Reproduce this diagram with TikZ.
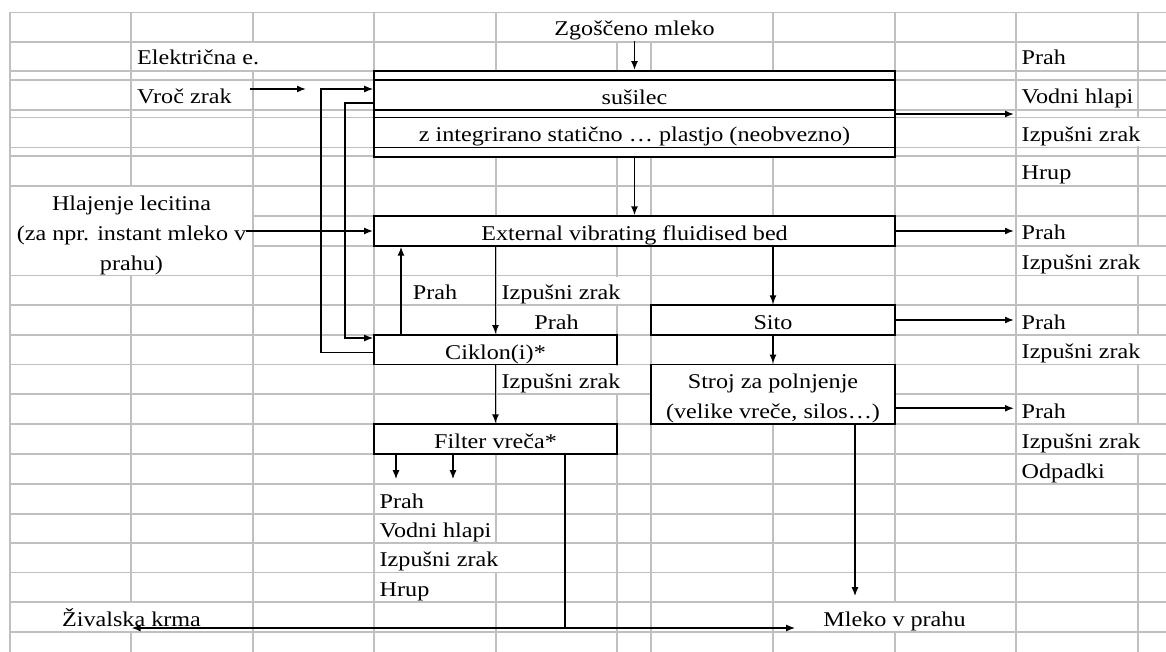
\documentclass[tikz,border=0pt]{standalone}
\usepackage{fontspec}
\setmainfont[FakeStretch=1.15]{Liberation Serif}
\usetikzlibrary{arrows.meta}
\definecolor{sheetgray}{RGB}{192,192,192}
\tikzset{>={Latex[length=9pt,width=7pt]}, % filled arrow tips
  box/.style={draw, line width=1.8pt, fill=white, inner sep=0pt,
    minimum height=29.5pt, text height=19pt, text depth=0pt},
  flow/.style={line width=1.6pt},
  recycle/.style={line width=1.1pt},
  sheetline/.style={line width=1.2pt, draw=sheetgray},
  cell/.style={anchor=base west, inner sep=0pt},
  ccell/.style={anchor=base, inner sep=0pt},
  flow chart/.style={
    x=1pt,
    y=-1pt,
    font={\fontsize{21}{30}\selectfont},
  },
}
\newcommand{\hidegrid}[4]{\fill[white] (#1,#2) rectangle (#3,#4);}

\begin{document}
\begin{tikzpicture}[flow chart]
    \useasboundingbox (0,0) rectangle (1166,652);
    \foreach \y in {12.5,42,71,80,110,117.5,147.5,156,186,216,246,275.5,305,335,364.5,394,424,454,484,514,543,572.5,602,632}
      \draw [sheetline] (10,\y) -- (1166,\y);
    \foreach \x in {10,131,253,374,496,617,651,773,895,1016,1138}
      \draw [sheetline] (\x,12.5) -- (\x,652);
    \hidegrid{605}{13.5}{665}{41}
    \hidegrid{245}{43}{262}{70}
    \hidegrid{11}{187}{252}{274.5}
    \hidegrid{1130}{118.5}{1146}{146.5}
    \hidegrid{1130}{247}{1146}{274.5}
    \hidegrid{1130}{336}{1146}{363.5}
    \hidegrid{1130}{425}{1146}{453}
    \hidegrid{610}{276.5}{625}{304}
    \hidegrid{610}{365.5}{625}{393}
    \hidegrid{490}{544}{503}{571.5}
    \hidegrid{120}{603}{142}{631}
    \hidegrid{885}{603}{905}{631}

    \node [box, minimum width=521pt, minimum height=86pt] (dryer) at (634.5,114) {};
    \node [box, minimum width=521pt, minimum height=30pt] (dryrow) at (634.5,95) {sušilec};
    \node [box, minimum width=521pt, minimum height=30pt] (plate) at (634.5,132.5) {z integrirano statično … plastjo (neobvezno)};
    \node [box, minimum width=521pt] (bed) at (634.5,231) {External vibrating fluidised bed};
    \node [box, minimum width=243pt] (ciklon) at (495.5,349.75) {Ciklon(i)*};
    \node [box, minimum width=244pt] (sito) at (773,320) {Sito};
    \node [box, minimum width=244pt, minimum height=59.5pt, align=center, text height=49pt] (stroj) at (773,394.25) {Stroj za polnjenje\\(velike vreče, silos…)};
    \node [box, minimum width=243pt] (filter) at (495.5,439) {Filter vreča*};

    \node [ccell] (zgo) at (634.5,36) {Zgoščeno mleko};
    \node [cell] (elektr) at (137,65) {Električna e.};
    \node [cell] (vroc) at (137,104) {Vroč zrak};
    \node [align=center, inner sep=0pt, text height=79pt, text depth=0pt] (hlaj) at (131.5,231) {Hlajenje lecitina\\(za npr. instant mleko v\\prahu)};
    \node [cell] (rprah1) at (1021.5,65) {Prah};
    \node [cell] (rvodni) at (1021.5,104) {Vodni hlapi};
    \node [cell] (rizp1) at (1021.5,141.5) {Izpušni zrak};
    \node [cell] (rhrup) at (1021.5,180) {Hrup};
    \node [cell] (rprah2) at (1021.5,240) {Prah};
    \node [cell] (rizp2) at (1021.5,269.5) {Izpušni zrak};
    \node [cell] (rprah3) at (1021.5,329) {Prah};
    \node [cell] (rizp3) at (1021.5,358.5) {Izpušni zrak};
    \node [cell] (rprah4) at (1021.5,418) {Prah};
    \node [cell] (rizp4) at (1021.5,448) {Izpušni zrak};
    \node [cell] (rodp) at (1021.5,478) {Odpadki};
    \node [ccell] (prahup) at (435,299.5) {Prah};
    \node [cell] (izpbed) at (501.5,299.5) {Izpušni zrak};
    \node [ccell] (prahcik) at (556.5,329) {Prah};
    \node [cell] (izpcik) at (501.5,388.5) {Izpušni zrak};
    \node [cell] (fprah) at (379.5,508) {Prah};
    \node [cell] (fvodni) at (379.5,537) {Vodni hlapi};
    \node [cell] (fizp) at (379.5,566.5) {Izpušni zrak};
    \node [cell] (fhrup) at (379.5,596) {Hrup};
    \node [ccell] (krma) at (131.5,626) {Živalska krma};
    \node [ccell] (mleko) at (894.5,626) {Mleko v prahu};

    \coordinate (loopa) at (321,89);
    \coordinate (loopb) at (345,338);
    \coordinate (cikup) at ([xshift=-94.5pt]ciklon.north);
    \coordinate (fout1) at ([xshift=-99.5pt]filter.south);
    \coordinate (fout2) at ([xshift=-42.5pt]filter.south);
    \coordinate (split) at (565,628);
    \coordinate (strojbot) at ([xshift=82pt]stroj.south);
    \coordinate (strojout) at ([yshift=-14pt]stroj.east);

    \draw [flow,->] (zgo) -- (zgo |- dryer.north);
    \draw [flow,->,shorten <=18pt] (vroc.east |- loopa) -- ([xshift=-15pt]loopa);
    \draw [recycle,->] ([yshift=-3pt]ciklon.west) -| (loopa) -- (loopa -| dryer.west);
    \draw [recycle,->] ([yshift=-8pt]dryrow.west) -| (loopb) -- (loopb -| ciklon.west);
    \draw [flow,->] (hlaj.east |- bed.west) -- (bed.west);
    \draw [flow,->] (dryer.south) -- (bed.north);
    \draw [flow,->,shorten >=7.5pt] (dryer.east) -- (dryer.east -| rvodni.west);
    \draw [flow,->,shorten >=7.5pt] (bed.east) -- (bed.east -| rprah2.west);
    \draw [flow,->,shorten >=7.5pt] (sito.east) -- (sito.east -| rprah3.west);
    \draw [flow,->,shorten >=7.5pt] (strojout) -- (strojout -| rprah4.west);
    \draw [flow,->] (bed.south -| ciklon.north) -- (ciklon.north);
    \draw [flow,->] (cikup) -- (cikup |- bed.south);
    \draw [flow,->] (bed.south -| sito.north) -- (sito.north);
    \draw [flow,->] (sito) -- (stroj);
    \draw [flow,->] (ciklon) -- (filter);
    \draw [flow,->,shorten >=14pt] (fout1) -- (fout1 |- fprah.north);
    \draw [flow,->,shorten >=14pt] (fout2) -- (fout2 |- fprah.north);
    \draw [recycle] (filter.south -| split) -- (split);
    \draw [flow,->] (split) -- (split -| krma);
    \draw [flow,->,shorten >=28pt] (split) -- (split -| mleko.west);
    \draw [flow,->,shorten >=15pt] (strojbot) -- (strojbot |- mleko.north);
  \end{tikzpicture}
\end{document}
